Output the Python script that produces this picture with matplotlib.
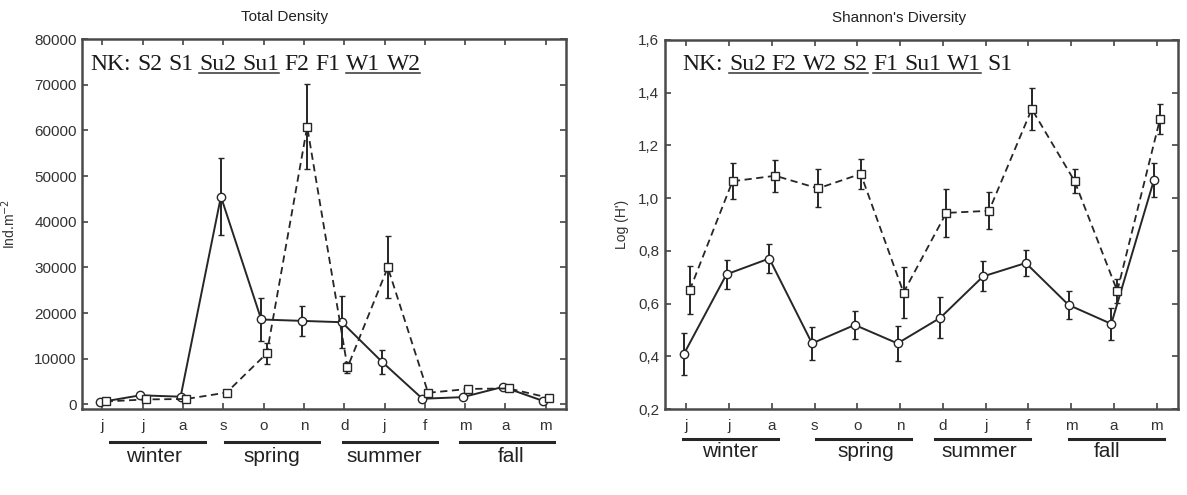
"""
Total density and Shannon's diversity by month, two stations (NK).
"""
import numpy as np
import matplotlib
matplotlib.use('Agg')
import matplotlib.pyplot as plt
from matplotlib.lines import Line2D
from matplotlib.transforms import IdentityTransform, blended_transform_factory

plt.rcParams['font.family'] = ['Liberation Sans', 'DejaVu Sans']

# months (jun .. may)
months = ['j', 'j', 'a', 's', 'o', 'n', 'd', 'j', 'f', 'm', 'a', 'm']
seasons = ['winter', 'spring', 'summer', 'fall']

# total density (ind.m-2): circles = solid line, squares = dashed line
dens_circ = [500, 2000, 1700, 45500, 18600, 18300, 18000, 9300, 1250, 1600, 3850, 750]
dens_circ_err = [0, 0, 0, 8500, 4750, 3300, 5700, 2700, 0, 0, 0, 0]
dens_sq = [650, 1100, 1200, 2600, 11200, 60800, 8100, 30000, 2550, 3400, 3500, 1450]
dens_sq_err = [0, 0, 0, 0, 2300, 9300, 1200, 6800, 0, 0, 0, 0]

# Shannon's diversity, Log (H')
div_circ = [0.408, 0.711, 0.771, 0.449, 0.519, 0.449, 0.546, 0.703, 0.754, 0.595, 0.523, 1.07]
div_circ_err = [0.08, 0.055, 0.055, 0.063, 0.053, 0.067, 0.078, 0.057, 0.048, 0.054, 0.06, 0.065]
div_sq = [0.651, 1.064, 1.085, 1.037, 1.092, 0.642, 0.944, 0.952, 1.338, 1.065, 0.648, 1.30]
div_sq_err = [0.09, 0.068, 0.06, 0.072, 0.057, 0.095, 0.09, 0.07, 0.08, 0.047, 0.045, 0.058]

dens_ticks = [0, 10000, 20000, 30000, 40000, 50000, 60000, 70000, 80000]
div_ticks = [0.2, 0.4, 0.6, 0.8, 1.0, 1.2, 1.4, 1.6]
div_ticklabels = ['0,2', '0,4', '0,6', '0,8', '1,0', '1,2', '1,4', '1,6']

# NK rankings; words sharing a group number are underlined together
nk_dens = [('S2', None), ('S1', None), ('Su2', 1), ('Su1', 1),
           ('F2', None), ('F1', None), ('W1', 2), ('W2', 2)]
nk_div = [('Su2', 1), ('F2', 1), ('W2', 1), ('S2', 1),
          ('F1', 2), ('Su1', 2), ('W1', 2), ('S1', None)]

INK = '#262626'
x = np.arange(len(months))

fig = plt.figure(figsize=(11.87, 4.95), dpi=100)
ax1 = fig.add_axes([0.0693, 0.1737, 0.4075, 0.7475])
ax2 = fig.add_axes([0.5602, 0.1737, 0.4322, 0.7455])


def plot_pair(ax, yc, yce, ys, yse):
    ax.errorbar(x - 0.06, yc, yerr=yce, fmt='-o', color=INK, lw=1.4,
                mfc='white', mec=INK, ms=6, mew=1.0,
                ecolor=INK, elinewidth=1.4, capsize=2.5, capthick=1.3, zorder=3)
    ax.errorbar(x + 0.08, ys, yerr=yse, fmt='s', color=INK, ls=(0, (4, 2.5)), lw=1.3,
                mfc='white', mec=INK, ms=6, mew=1.0,
                ecolor=INK, elinewidth=1.4, capsize=2.5, capthick=1.3, zorder=3)


def style_axes(ax):
    ax.set_xlim(-0.5, 11.5)
    ax.set_xticks(x)
    ax.set_xticklabels(months)
    ax.tick_params(direction='in', top=True, right=True, length=4, width=1.2,
                   color='#444444', labelsize=11, labelcolor='#333333')
    ax.tick_params(axis='x', pad=7)
    ax.tick_params(axis='y', pad=4)
    for s in ax.spines.values():
        s.set_linewidth(1.8)
        s.set_color('#4a4a4a')


def season_bars(ax, spans, centers, line_y, text_y):
    tr = blended_transform_factory(ax.transData, ax.transAxes)
    for name, (a, b), c in zip(seasons, spans, centers):
        ax.plot([a, b], [line_y, line_y], color=INK, lw=2.2,
                transform=tr, clip_on=False)
        ax.text(c, text_y, name, transform=tr, ha='center', va='baseline',
                fontsize=15, color='#222222')


def nk_text(ax, words, x0, y0, size=17):
    first = ax.text(x0, y0, 'NK:', transform=ax.transAxes, fontsize=size,
                    family='Liberation Serif', color='#1a1a1a', va='bottom')
    prev = first
    items = []
    for w, grp in words:
        t = ax.annotate(w, xy=(1, 0), xycoords=prev, xytext=(size * 0.25, 0),
                        textcoords='offset points', va='bottom', ha='left',
                        fontsize=size, family='Liberation Serif', color='#1a1a1a')
        items.append((t, grp))
        prev = t
    return items


def underline(fig, items):
    renderer = fig.canvas.get_renderer()
    groups = {}
    for t, grp in items:
        if grp is None:
            continue
        groups.setdefault(grp, []).append(t.get_window_extent(renderer))
    for bbs in groups.values():
        x_a = bbs[0].x0
        x_b = bbs[-1].x1
        y = bbs[0].y0 + 2
        fig.add_artist(Line2D([x_a, x_b], [y, y], color='#333333', lw=1.1,
                              transform=IdentityTransform()))


# left panel: total density
plot_pair(ax1, dens_circ, dens_circ_err, dens_sq, dens_sq_err)
style_axes(ax1)
ax1.set_ylim(-1000, 80000)
ax1.set_yticks(dens_ticks)
ax1.set_ylabel('Ind.m$^{-2}$', fontsize=10, color='#333333', labelpad=12)
ax1.text(0.418, 1.059, 'Total Density', transform=ax1.transAxes,
         ha='center', va='center', fontsize=11, color='#222222')
season_bars(ax1, [(0.2, 2.54), (3.05, 5.37), (5.97, 8.3), (8.87, 11.2)],
            [1.28, 4.2, 7.0, 10.15], -0.088, -0.142)
items1 = nk_text(ax1, nk_dens, 0.0176, 0.902)

# right panel: Shannon's diversity
plot_pair(ax2, div_circ, div_circ_err, div_sq, div_sq_err)
style_axes(ax2)
ax2.set_ylim(0.2, 1.6)
ax2.set_yticks(div_ticks)
ax2.set_yticklabels(div_ticklabels)
ax2.set_ylabel("Log (H')", fontsize=10, color='#333333', labelpad=7)
ax2.text(0.457, 1.059, "Shannon's Diversity", transform=ax2.transAxes,
         ha='center', va='center', fontsize=11, color='#222222')
season_bars(ax2, [(-0.08, 2.15), (3.04, 5.25), (5.82, 8.05), (8.96, 11.18)],
            [1.01, 4.2, 6.85, 9.84], -0.082, -0.131)
items2 = nk_text(ax2, nk_div, 0.0345, 0.905)

fig.canvas.draw()
underline(fig, items1)
underline(fig, items2)

fig.savefig('out.png', dpi=100)
plt.close(fig)
